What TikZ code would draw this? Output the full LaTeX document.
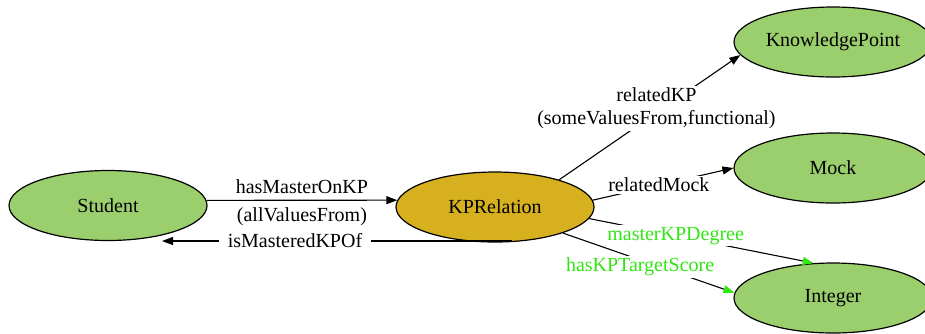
\documentclass[tikz,border=0pt]{standalone}
\usepackage{fontspec}
\setmainfont{Liberation Serif}
\usetikzlibrary{arrows.meta, shapes.geometric}
\definecolor{classgreen}{RGB}{155,207,110}
\definecolor{relgold}{RGB}{214,176,30}
\definecolor{datagreen}{RGB}{50,230,20}

\begin{document}
\begin{tikzpicture}[
    x=1pt, y=-1pt,
    font=\fontsize{20}{23}\selectfont,
    >={Triangle[length=11pt, width=8pt]},
    classnode/.style={ellipse, draw=black, line width=1.2pt, fill=classgreen, minimum width=198pt, minimum height=70pt, inner sep=0pt},
    relnode/.style={classnode, fill=relgold},
    lbl/.style={fill=white, inner sep=2pt},
    greenarrow/.style={-{Triangle[length=11pt, width=8pt, color=datagreen]}},
    every edge/.append style={line width=1.1pt}
]
   \useasboundingbox (0,0) rectangle (925,333);

   % Classes
   \node[classnode] (Student) at (108,205.5) {Student};
   \node[relnode] (KPRelation) at (495,207) {KPRelation};
   \node[classnode] (KnowledgePoint) at (833,42) {KnowledgePoint};
   \node[classnode] (Mock) at (833,168) {Mock};
   \node[classnode] (Integer) at (833,298) {Integer};
   \coordinate (mastStart) at (512,241);
   \coordinate (mastEnd) at (162,241);

   % Properties
   \path[->]
   (Student.3) edge node[above, yshift=3pt] {hasMasterOnKP} node[below, yshift=-3pt] {(allValuesFrom)} (KPRelation.176)
   (mastStart) edge node[lbl, pos=0.62, inner xsep=9pt] {isMasteredKPOf} (mastEnd)
   (KPRelation.23) edge node[lbl, pos=0.57, xshift=-6pt, align=center] {relatedKP\\(someValuesFrom,functional)} (KnowledgePoint.188)
   (KPRelation.4) edge node[lbl, pos=0.47] {relatedMock} (Mock.west)

   % datatype properties
   (KPRelation.-7) edge[greenarrow] node[lbl, text=datagreen, pos=0.385] {masterKPDegree} (Integer.119)
   (KPRelation.-21) edge[greenarrow] node[lbl, text=datagreen, pos=0.45, yshift=-7pt] {hasKPTargetScore} (Integer.177);

\end{tikzpicture}
\end{document}
